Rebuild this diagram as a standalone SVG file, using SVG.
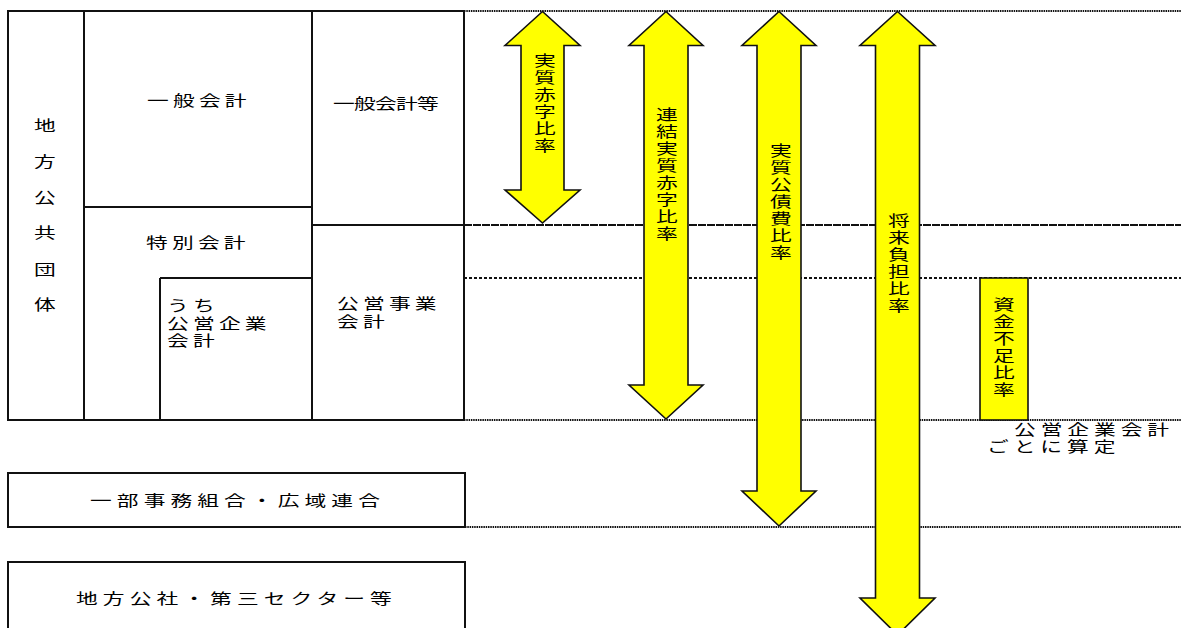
<svg xmlns="http://www.w3.org/2000/svg" width="1181" height="628" viewBox="0 0 1181 628">
<style>
.t{font-family:"Noto Sans CJK JP","Noto Sans CJK SC",sans-serif;font-size:15px;fill:#000}
.sp{letter-spacing:2.9px}
.box{fill:#fff;stroke:#111;stroke-width:2}
.ln{stroke:#111;stroke-width:2;fill:none}
.arrow{fill:#ffff00;stroke:#111;stroke-width:1.6;stroke-linejoin:miter}
.dot{stroke:#111;stroke-width:2;stroke-dasharray:1.5 0.8;fill:none}
.dl{stroke:#111;stroke-width:2;stroke-dasharray:8 1;fill:none}
.ds{stroke:#111;stroke-width:2;stroke-dasharray:3 2;fill:none}
</style>
<rect width="1181" height="628" fill="#fff"/>
<g id="connectors">
<line class="dot" x1="464" y1="11" x2="1181" y2="11"/>
<line class="dl" x1="464" y1="225" x2="1181" y2="225"/>
<line class="ds" x1="464" y1="278" x2="1181" y2="278"/>
<line class="dot" x1="464" y1="420" x2="1181" y2="420"/>
<line class="dot" x1="465" y1="527" x2="1181" y2="527"/>
</g>
<g id="local-gov">
<rect class="box" x="8" y="11" width="456" height="409"/>
<line class="ln" x1="84" y1="11" x2="84" y2="420"/>
<line class="ln" x1="312" y1="11" x2="312" y2="420"/>
<text class="t" transform="translate(45,0) scale(1.45,1)" text-anchor="middle"><tspan x="0" y="131">地</tspan><tspan x="0" y="167">方</tspan><tspan x="0" y="203">公</tspan><tspan x="0" y="238">共</tspan><tspan x="0" y="275">団</tspan><tspan x="0" y="310">体</tspan></text>
</g>
<g id="general-account">
<line class="ln" x1="84" y1="207" x2="312" y2="207"/>
<text class="t sp" transform="translate(147,106) scale(1.45,1)">一般会計</text>
</g>
<g id="special-account">
<text class="t sp" transform="translate(146,248) scale(1.45,1)">特別会計</text>
</g>
<g id="public-enterprise">
<line class="ln" x1="160" y1="278" x2="160" y2="420"/>
<line class="ln" x1="160" y1="278" x2="312" y2="278"/>
<text class="t sp" transform="translate(167,0) scale(1.45,1)"><tspan x="0" y="311">うち</tspan><tspan x="0" y="329">公営企業</tspan><tspan x="0" y="346">会計</tspan></text>
</g>
<g id="general-etc">
<line class="ln" x1="312" y1="225" x2="464" y2="225"/>
<text class="t" transform="translate(333,109) scale(1.45,1)" style="letter-spacing:-0.5px">一般会計等</text>
</g>
<g id="public-business">
<text class="t sp" transform="translate(337,0) scale(1.45,1)"><tspan x="0" y="309">公営事業</tspan><tspan x="0" y="327">会計</tspan></text>
</g>
<g id="union">
<rect class="box" x="8" y="473" width="457" height="54"/>
<text class="t" style="letter-spacing:3.5px" transform="translate(90,506) scale(1.45,1)">一部事務組合・広域連合</text>
</g>
<g id="corporation">
<rect class="box" x="8" y="562" width="457" height="80"/>
<text class="t" style="letter-spacing:3.5px" transform="translate(76,604) scale(1.45,1)">地方公社・第三セクター等</text>
</g>
<g id="arrow-deficit">
<polygon class="arrow" points="542.5,11.5 580,45.5 564,45.5 564,190 580,190 542.5,223 505,190 521,190 521,45.5 505,45.5"/>
<text class="t" transform="translate(545,0) scale(1.45,1)" text-anchor="middle"><tspan x="0" y="66">実</tspan><tspan x="0" y="83">質</tspan><tspan x="0" y="100">赤</tspan><tspan x="0" y="117">字</tspan><tspan x="0" y="134">比</tspan><tspan x="0" y="151">率</tspan></text>
</g>
<g id="arrow-consolidated">
<polygon class="arrow" points="666,11.5 703,45.5 688,45.5 688,385 703,385 666,419 629,385 644,385 644,45.5 629,45.5"/>
<text class="t" transform="translate(667,0) scale(1.45,1)" text-anchor="middle"><tspan x="0" y="120">連</tspan><tspan x="0" y="137">結</tspan><tspan x="0" y="154">実</tspan><tspan x="0" y="171">質</tspan><tspan x="0" y="188">赤</tspan><tspan x="0" y="205">字</tspan><tspan x="0" y="222">比</tspan><tspan x="0" y="239">率</tspan></text>
</g>
<g id="arrow-debt">
<polygon class="arrow" points="779,11.5 816,45.5 801,45.5 801,491 816,491 779,526 742,491 757,491 757,45.5 742,45.5"/>
<text class="t" transform="translate(781,0) scale(1.45,1)" text-anchor="middle"><tspan x="0" y="156">実</tspan><tspan x="0" y="173">質</tspan><tspan x="0" y="190">公</tspan><tspan x="0" y="207">債</tspan><tspan x="0" y="224">費</tspan><tspan x="0" y="241">比</tspan><tspan x="0" y="258">率</tspan></text>
</g>
<g id="arrow-future">
<polygon class="arrow" points="897.5,11.5 935,45.5 919.5,45.5 919.5,598 935,598 897.5,635 860,598 875.5,598 875.5,45.5 860,45.5"/>
<text class="t" transform="translate(899,0) scale(1.45,1)" text-anchor="middle"><tspan x="0" y="226">将</tspan><tspan x="0" y="243">来</tspan><tspan x="0" y="260">負</tspan><tspan x="0" y="277">担</tspan><tspan x="0" y="294">比</tspan><tspan x="0" y="311">率</tspan></text>
</g>
<g id="fund-shortage">
<rect class="arrow" x="980" y="278" width="48" height="142"/>
<text class="t" transform="translate(1004,0) scale(1.45,1)" text-anchor="middle"><tspan x="0" y="310">資</tspan><tspan x="0" y="327">金</tspan><tspan x="0" y="344">不</tspan><tspan x="0" y="361">足</tspan><tspan x="0" y="378">比</tspan><tspan x="0" y="395">率</tspan></text>
<text class="t" style="letter-spacing:3.4px" transform="translate(1014,435) scale(1.45,1)">公営企業会計</text>
<text class="t" style="letter-spacing:3.4px" transform="translate(987,452) scale(1.45,1)">ごとに算定</text>
</g>
</svg>
